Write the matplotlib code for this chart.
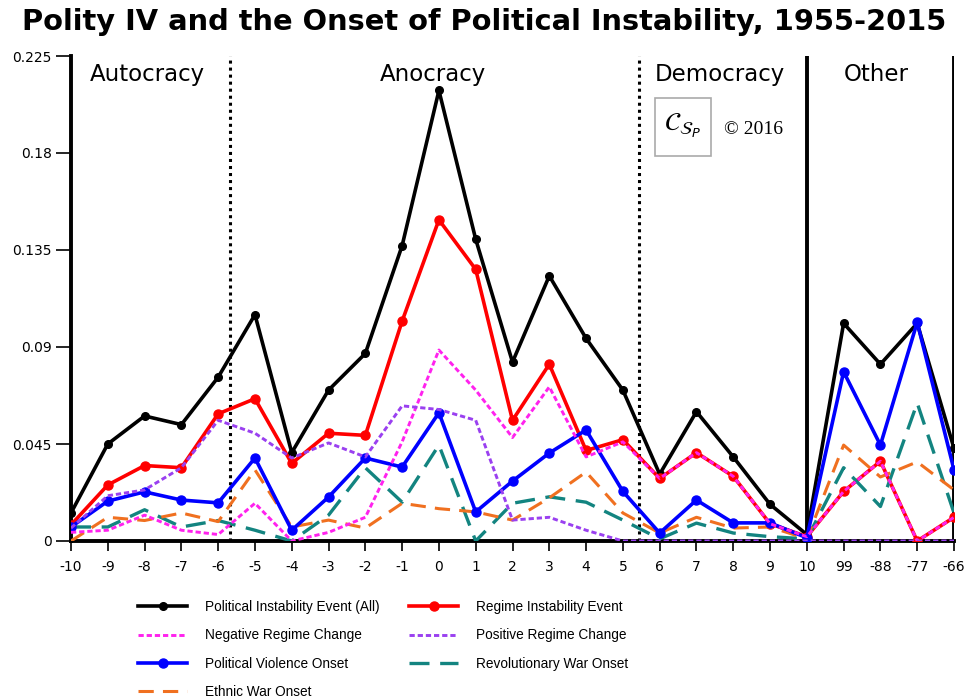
"""Polity IV and the onset of political instability, 1955-2015."""
import matplotlib
matplotlib.use("Agg")
import matplotlib.pyplot as plt
from matplotlib.patches import Rectangle

plt.rcParams["font.family"] = ["Liberation Sans", "DejaVu Sans"]

polity_labels = ["-10", "-9", "-8", "-7", "-6", "-5", "-4", "-3", "-2", "-1", "0", "1", "2",
                 "3", "4", "5", "6", "7", "8", "9", "10", "99", "-88", "-77", "-66"]

pie_all = [0.013, 0.045, 0.058, 0.054, 0.076, 0.105, 0.041, 0.070, 0.087, 0.137, 0.209, 0.140, 0.083,
           0.123, 0.094, 0.070, 0.031, 0.060, 0.039, 0.017, 0.003, 0.101, 0.082, 0.101, 0.043]
regime_instability = [0.0075, 0.026, 0.035, 0.034, 0.059, 0.066, 0.036, 0.050, 0.049, 0.102, 0.149, 0.126, 0.056,
                      0.082, 0.042, 0.047, 0.029, 0.041, 0.030, 0.008, 0.002, 0.023, 0.037, 0.0, 0.011]
negative_change = [0.004, 0.005, 0.012, 0.005, 0.003, 0.0175, 0.0, 0.004, 0.011, 0.046, 0.0886, 0.070, 0.048,
                   0.0715, 0.039, 0.046, 0.029, 0.041, 0.030, 0.008, 0.002, 0.023, 0.037, 0.0, 0.011]
positive_change = [0.006, 0.021, 0.0237, 0.034, 0.056, 0.050, 0.0385, 0.0455, 0.039, 0.0627, 0.061, 0.056, 0.0097,
                   0.011, 0.005, 0.0, 0.0, 0.0, 0.0, 0.0, 0.0, 0.0, 0.0, 0.0, 0.0]
violence_onset = [0.0065, 0.0185, 0.0228, 0.019, 0.0177, 0.0385, 0.005, 0.0204, 0.0385, 0.0343, 0.0595, 0.0135, 0.0278,
                  0.0408, 0.0515, 0.023, 0.0037, 0.019, 0.0084, 0.0084, 0.0015, 0.0785, 0.0445, 0.1015, 0.033]
revolutionary_war = [0.0065, 0.0065, 0.0145, 0.0065, 0.0095, 0.005, 0.0, 0.012, 0.034, 0.018, 0.0445, 0.0, 0.0175,
                     0.0205, 0.018, 0.0097, 0.001, 0.0083, 0.0037, 0.002, 0.001, 0.034, 0.016, 0.064, 0.013]
ethnic_war = [0.0, 0.011, 0.0095, 0.013, 0.009, 0.033, 0.0065, 0.0097, 0.006, 0.0175, 0.015, 0.0135, 0.0097,
              0.020, 0.032, 0.013, 0.0037, 0.011, 0.006, 0.0065, 0.001, 0.0445, 0.0297, 0.0367, 0.0237]

y_ticks = [0, 0.045, 0.09, 0.135, 0.18, 0.225]
y_tick_labels = ["0", "0.045", "0.09", "0.135", "0.18", "0.225"]
regions = ["Autocracy", "Anocracy", "Democracy", "Other"]

x = list(range(len(polity_labels)))

fig = plt.figure(figsize=(9.65, 6.98), dpi=100)
ax = fig.add_axes([71 / 965, 1 - 541 / 698, 883 / 965, 485 / 698])

ax.plot(x, pie_all, color="black", lw=2.6, marker="o", ms=5.5, zorder=3,
        label="Political Instability Event (All)")
ax.plot(x, regime_instability, color="#ff0000", lw=2.6, marker="o", ms=6.5, zorder=3,
        label="Regime Instability Event")
ax.plot(x, violence_onset, color="#0000ff", lw=2.6, marker="o", ms=6.5, zorder=4,
        label="Political Violence Onset")
ax.plot(x, revolutionary_war, color="#138480", lw=2.4, dashes=(6, 3.2), zorder=3,
        label="Revolutionary War Onset")
ax.plot(x, ethnic_war, color="#f07020", lw=2.2, dashes=(5, 3), zorder=3,
        label="Ethnic War Onset")
ax.plot(x, negative_change, color="#ff22ee", lw=2.1, dashes=(1.8, 1.0), zorder=5,
        label="Negative Regime Change")
ax.plot(x, positive_change, color="#9a40f0", lw=2.1, dashes=(1.8, 1.0), zorder=5,
        label="Positive Regime Change")

# regime-type separators
ax.axvline(4.33, color="black", lw=2.2, ls=(0, (1, 1.3)), zorder=2)
ax.axvline(15.43, color="black", lw=2.2, ls=(0, (1, 1.3)), zorder=2)
ax.axvline(20, color="black", lw=2.8, zorder=2)
ax.axvline(24, color="black", lw=2.8, zorder=2)

ax.set_xlim(0, 24)
ax.set_ylim(0, 0.225)
ax.set_xticks(x)
ax.set_xticklabels(polity_labels, fontsize=10, family="DejaVu Sans")
ax.set_yticks(y_ticks)
ax.set_yticklabels(y_tick_labels, fontsize=10, family="DejaVu Sans")
ax.tick_params(axis="x", length=7, width=1.2, pad=7)
ax.tick_params(axis="y", length=11, width=1.2, pad=3)
for side in ["top", "right"]:
    ax.spines[side].set_visible(False)
ax.spines["left"].set_linewidth(2.8)
ax.spines["bottom"].set_linewidth(2.8)

region_x = [2.07, 9.85, 17.65, 21.9]
for name, xr in zip(regions, region_x):
    ax.text(xr, 0.2165, name, fontsize=16.5, family="DejaVu Sans", ha="center", va="center")

# CSP logo and copyright
logo = Rectangle((655 / 965, 1 - 156 / 698), 56 / 965, 58 / 698, transform=fig.transFigure,
                 facecolor="white", edgecolor="#aaaaaa", lw=1.2)
fig.patches.append(logo)
fig.text(682 / 965, 1 - 126 / 698, "$\\mathcal{C}_{\\mathcal{S}_{P}}$", fontsize=19,
         ha="center", va="center")
fig.text(724 / 965, 1 - 129 / 698, "© 2016", fontsize=14, family="Liberation Serif",
         ha="left", va="center")

fig.suptitle("Polity IV and the Onset of Political Instability, 1955-2015",
             x=484 / 965, y=1 - 22 / 698, va="center", fontsize=20.8, fontweight="bold",
             family="DejaVu Sans")

h, l = ax.get_legend_handles_labels()
order = [0, 5, 2, 4, 1, 6, 3]
fig.legend([h[i] for i in order], [l[i] for i in order], ncol=2, frameon=False,
           loc="upper left", bbox_to_anchor=(138 / 965, 1 - 600 / 698), fontsize=9.8,
           handlelength=3.6, handletextpad=1.3, columnspacing=2.2, labelspacing=1.05,
           borderpad=0, borderaxespad=0)

fig.savefig("out.png", dpi=100)
